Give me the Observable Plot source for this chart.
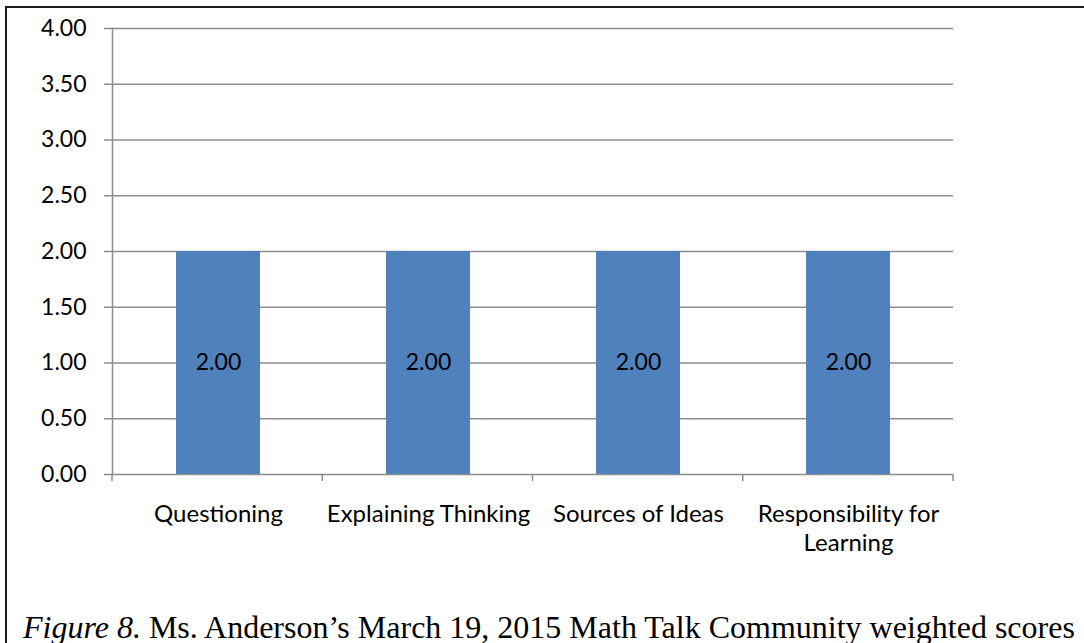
<!DOCTYPE html>
<html>
<head>
<meta charset="utf-8">
<script src="https://cdn.jsdelivr.net/npm/d3@7"></script>
<script src="https://cdn.jsdelivr.net/npm/@observablehq/plot@0.6"></script>
<style>
  html, body { margin: 0; padding: 0; background: #fff; overflow: hidden; }
  #wrap { position: relative; width: 1084px; height: 643px; }
  #frame { position: absolute; left: 5px; top: 6px; width: 1200px; height: 800px;
           border-left: 2px solid #1a1a1a; border-top: 2px solid #1a1a1a; }
  #chart { position: absolute; left: 0; top: 0; }
  #caption { position: absolute; left: 23px; top: 611px; white-space: nowrap; line-height: 1;
             font-family: "Liberation Serif", "Times New Roman", serif; font-size: 32px; color: #000; }
</style>
</head>
<body>
<div id="wrap">
  <div id="frame"></div>
  <div id="chart"></div>
  <div id="caption"><i>Figure 8.</i> Ms. Anderson’s March 19, 2015 Math Talk Community weighted scores</div>
</div>
<script>
const categories = ["Questioning", "Explaining Thinking", "Sources of Ideas", "Responsibility for\nLearning"];
const values = [2.00, 2.00, 2.00, 2.00];
const yTicks = [0, 0.5, 1, 1.5, 2, 2.5, 3, 3.5, 4];

const data = categories.map((c, i) => ({category: c, value: values[i]}));
const FONT = "Lato, 'Open Sans', sans-serif";
const GRID = "#8c8c8c";

function boundaryTicks(index, scales, vals, dims) {
  const g = d3.create("svg:g").attr("stroke", GRID).attr("stroke-width", 1.5);
  const x0 = dims.marginLeft, x1 = dims.width - dims.marginRight;
  const yb = dims.height - dims.marginBottom;
  const step = (x1 - x0) / categories.length;
  for (let i = 0; i <= categories.length; i++) {
    const x = x0 + i * step;
    g.append("line").attr("x1", x).attr("x2", x).attr("y1", yb).attr("y2", yb + 7);
  }
  return g.node();
}

const chart = Plot.plot({
  width: 1084,
  height: 600,
  marginLeft: 112,
  marginRight: 131,
  marginTop: 28,
  marginBottom: 126,
  style: {fontFamily: FONT, fontSize: "24px", color: "#000", background: "transparent"},
  x: {domain: categories, paddingInner: 0.6, paddingOuter: 0.3, label: null},
  y: {domain: [0, 4], label: null},
  marks: [
    Plot.gridY(yTicks, {stroke: GRID, strokeOpacity: 1, strokeWidth: 1.5}),
    Plot.axisY(yTicks, {tickSize: 8, tickPadding: 18, stroke: GRID, strokeWidth: 1.5, tickFormat: d3.format(".2f"), fill: "#000", fontSize: 23, label: null}),
    Plot.barY(data, {x: "category", y: "value", fill: "#4F81BD"}),
    Plot.text(data, {x: "category", y: d => d.value / 2, text: d => d3.format(".2f")(d.value), fill: "#000", fontSize: 23}),
    Plot.axisX({tickSize: 0, tickPadding: 27, fill: "#000", fontSize: 24, lineHeight: 1.2, label: null}),
    Plot.frame({anchor: "left", stroke: GRID, strokeWidth: 1.5}),
    boundaryTicks
  ]
});
document.getElementById("chart").appendChild(chart);
</script>
</body>
</html>
